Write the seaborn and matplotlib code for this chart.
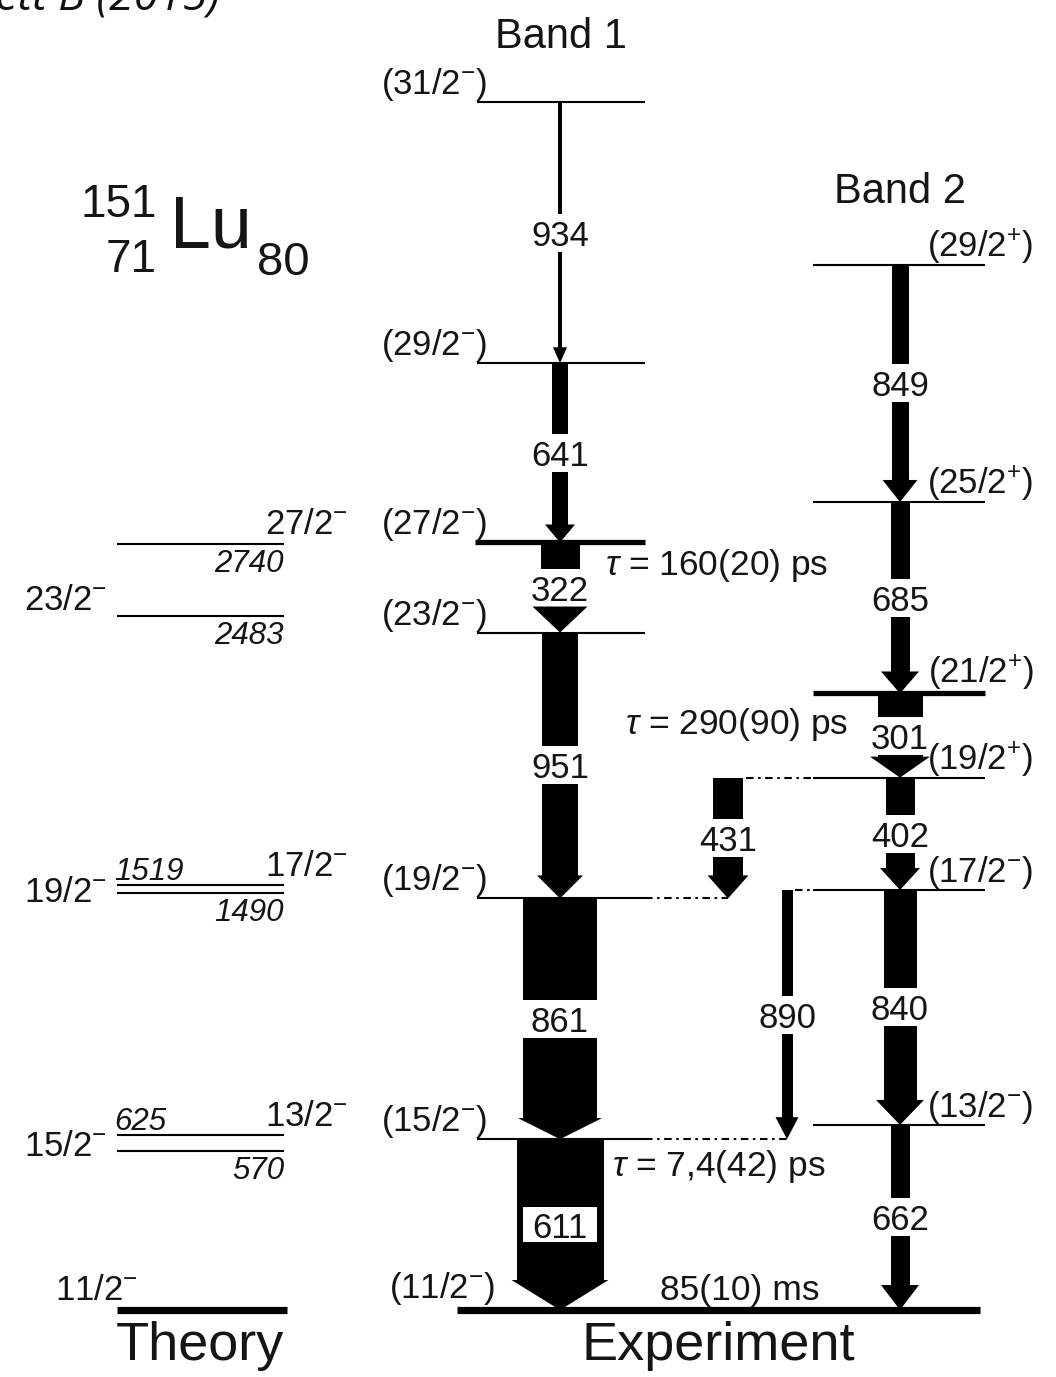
import numpy as np
import pandas as pd
import matplotlib
matplotlib.use("Agg")
import matplotlib.pyplot as plt
from matplotlib.patches import Rectangle
import seaborn as sns

# ---------------- data (energies in keV) ----------------
band1_spins = ["(11/2$^{-}$)", "(15/2$^{-}$)", "(19/2$^{-}$)", "(23/2$^{-}$)",
               "(27/2$^{-}$)", "(29/2$^{-}$)", "(31/2$^{-}$)"]
band1_energies = [0, 611, 1472, 2423, 2745, 3386, 4320]

band2_spins = ["(13/2$^{-}$)", "(17/2$^{-}$)", "(19/2$^{+}$)", "(21/2$^{+}$)",
               "(25/2$^{+}$)", "(29/2$^{+}$)"]
band2_energies = [662, 1502, 1904, 2205, 2890, 3739]

theory_spins = ["11/2$^{-}$", "13/2$^{-}$", "15/2$^{-}$", "17/2$^{-}$",
                "19/2$^{-}$", "23/2$^{-}$", "27/2$^{-}$"]
theory_energies = [0, 570, 625, 1490, 1519, 2483, 2740]

gamma_labels = ["934", "641", "322", "951", "861", "611",
                "849", "685", "301", "402", "840", "662", "431", "890"]
gamma_from = [4320, 3386, 2745, 2423, 1472, 611,
              3739, 2890, 2205, 1904, 1502, 662, 1904, 1502]
gamma_to = [3386, 2745, 2423, 1472, 611, 0,
            2890, 2205, 1904, 1502, 662, 0, 1472, 611]
gamma_intensity = [4, 16, 39, 36, 74, 87, 17, 19, 45, 29, 33, 19, 30, 11]

lifetimes = ["$\\tau$ = 160(20) ps", "$\\tau$ = 290(90) ps",
             "$\\tau$ = 7,4(42) ps", "85(10) ms"]
lifetime_levels = [2745, 2205, 611, 0]

# ---------------- layout / style ----------------
FIG_W, FIG_H = 1056, 1377
PX_PER_KEV = 0.2796
E0_PX = 1310
ymin = -(FIG_H - E0_PX) / PX_PER_KEV
ymax = ymin + FIG_H / PX_PER_KEV


def px(d):
    return d / PX_PER_KEV


B1_X = (477, 645)
B2_X = (813, 985)
TH_X = (117, 284)
EXP_GROUND_X = (457, 980)
TH_GROUND_X = (117, 287)
THICK_LEVELS = {2745, 2205}

gamma_x = [560] * 6 + [900] * 6 + [728, 787]
head_w = [14, 30, 55, 46, 84, 97, 35, 38, 60, 40, 48, 38, 41, 23]
head_l = [16, 18, 26, 23, 21, 30, 22, 22, 21, 22, 25, 25, 23, 22]

FS = 25          # general label size
TXT = "#151515"

sns.set_theme(style="white")
plt.rcParams["font.family"] = ["Liberation Sans", "DejaVu Sans"]
plt.rcParams["mathtext.fontset"] = "custom"
plt.rcParams["mathtext.rm"] = "Liberation Sans"
plt.rcParams["mathtext.it"] = "Liberation Sans:italic"
plt.rcParams["mathtext.bf"] = "Liberation Sans:bold"
plt.rcParams["mathtext.sf"] = "Liberation Sans"

fig = plt.figure(figsize=(FIG_W / 100, FIG_H / 100), dpi=100)
ax = fig.add_axes([0, 0, 1, 1])

# ---------------- level lines (seaborn) ----------------
rows = []


def seg(x0, x1, E, kind):
    sid = len(rows) // 2
    rows.append(dict(x=x0, E=E, seg=sid, kind=kind))
    rows.append(dict(x=x1, E=E, seg=sid, kind=kind))


for E in band1_energies[1:]:
    seg(B1_X[0] - (2 if E in THICK_LEVELS else 0), B1_X[1], E,
        "thick" if E in THICK_LEVELS else "thin")
for E in band2_energies:
    seg(B2_X[0], B2_X[1], E, "thick" if E in THICK_LEVELS else "thin")
for E in theory_energies[1:]:
    seg(TH_X[0], TH_X[1], E, "thin")
seg(EXP_GROUND_X[0], EXP_GROUND_X[1], band1_energies[0], "ground")
seg(TH_GROUND_X[0], TH_GROUND_X[1], theory_energies[0], "ground")
# dash-dotted connections to the inter-band transitions
seg(B1_X[1], gamma_x[12], gamma_to[12], "dotted")
seg(B1_X[1], gamma_x[13], gamma_to[13], "dotted")
seg(gamma_x[12] + 18, B2_X[0], gamma_from[12], "dotted")
seg(gamma_x[13] + 8, B2_X[0], gamma_from[13], "dotted")

df = pd.DataFrame(rows)
styles = {
    "thin": dict(linewidth=1.5, linestyle="-"),
    "thick": dict(linewidth=3.8, linestyle="-"),
    "ground": dict(linewidth=5.2, linestyle="-"),
    "dotted": dict(linewidth=1.5, linestyle=(0, (3.6, 2.2, 1.2, 2.2))),
}
for kind, st in styles.items():
    d = df[df["kind"] == kind]
    sns.lineplot(data=d, x="x", y="E", units="seg", estimator=None, sort=False,
                 color="black", ax=ax, legend=False, **st)
for ln in ax.lines:
    ln.set_solid_capstyle("butt")
    ln.set_dash_capstyle("butt")
    ln.set_antialiased(True)

# ---------------- gamma-ray arrows ----------------
GAP = 38
for i, lab in enumerate(gamma_labels):
    x = gamma_x[i]
    e_hi, e_lo = gamma_from[i], gamma_to[i]
    w, hw, hl = gamma_intensity[i], head_w[i], head_l[i]
    mid = 0.5 * (e_hi + e_lo)
    y_hs = e_lo + px(hl)
    ax.fill([x - hw / 2, x + hw / 2, x], [y_hs, y_hs, e_lo],
            color="black", lw=0)
    boxed = lab == "611"
    if boxed:
        pieces = [(e_hi, y_hs - px(0.6))]
    else:
        pieces = [(e_hi, mid + px(GAP) / 2), (mid - px(GAP) / 2, y_hs - px(0.6))]
    for a, b in pieces:
        if a > b:
            ax.fill([x - w / 2, x + w / 2, x + w / 2, x - w / 2], [a, a, b, b],
                    color="black", lw=0)
    if boxed:
        ax.add_patch(Rectangle((x - 37, mid - px(17)), 74, px(35),
                               facecolor="white", edgecolor="none", zorder=3))
    ax.text(x, mid, lab, ha="center", va="center_baseline", fontsize=FS,
            color=TXT, zorder=4)

# ---------------- level labels ----------------
for s, E in zip(band1_spins, band1_energies):
    off = (18, 12) if E == 0 else (10, 8)
    ax.annotate(s, xy=(B1_X[0], E), xytext=off, textcoords="offset pixels",
                ha="right", va="baseline", fontsize=FS, color=TXT)
for s, E in zip(band2_spins, band2_energies):
    off = (-57, 10) if E in THICK_LEVELS else (-58, 8)
    ax.annotate(s, xy=(B2_X[1], E), xytext=off, textcoords="offset pixels",
                ha="left", va="baseline", fontsize=FS, color=TXT)

# theory labels
FS_N = 22.5


def tlabel(text, x, E, dy, ha, va, italic=False, size=FS):
    ax.annotate(text, xy=(x, E), xytext=(0, dy), textcoords="offset pixels",
                ha=ha, va=va, fontsize=size, color=TXT,
                style="italic" if italic else "normal")


tlabel(theory_spins[6], 265, theory_energies[6], 10, "left", "baseline")
tlabel(str(theory_energies[6]), TH_X[1], theory_energies[6], -5, "right", "top", True, FS_N)
tlabel(theory_spins[5], 107, theory_energies[5], 6, "right", "baseline")
tlabel(str(theory_energies[5]), TH_X[1], theory_energies[5], -5, "right", "top", True, FS_N)
tlabel(str(theory_energies[4]), 114, theory_energies[4], 5, "left", "baseline", True, FS_N)
tlabel(theory_spins[3], 265, theory_energies[4], 9, "left", "baseline")
tlabel(theory_spins[4], 107, 0.5 * (theory_energies[3] + theory_energies[4]), 0,
       "right", "center_baseline")
tlabel(str(theory_energies[3]), TH_X[1], theory_energies[3], -5, "right", "top", True, FS_N)
tlabel(str(theory_energies[2]), 114, theory_energies[2], 5, "left", "baseline", True, FS_N)
tlabel(theory_spins[1], 265, theory_energies[2], 9, "left", "baseline")
tlabel(theory_spins[2], 107, 0.5 * (theory_energies[1] + theory_energies[2]), 0,
       "right", "center_baseline")
tlabel(str(theory_energies[1]), TH_X[1], theory_energies[1], -5, "right", "top", True, FS_N)
tlabel(theory_spins[0], 55, theory_energies[0], 10, "left", "baseline")

# lifetimes
life_x = [605, 625, 612, 660]
life_dy = [-19, -27, -23, 23]
for t, E, x, dy in zip(lifetimes, lifetime_levels, life_x, life_dy):
    ax.annotate(t, xy=(x, E), xytext=(0, dy), textcoords="offset pixels",
                ha="left", va="center_baseline", fontsize=FS + 0.5, color=TXT)

# band titles
ax.annotate("Band 1", xy=(561, band1_energies[-1]), xytext=(0, 70),
            textcoords="offset pixels", ha="center", va="center_baseline",
            fontsize=30, color=TXT)
ax.annotate("Band 2", xy=(900, band2_energies[-1]), xytext=(0, 77),
            textcoords="offset pixels", ha="center", va="center_baseline",
            fontsize=30, color=TXT)
ax.annotate("Theory", xy=(200, 0), xytext=(0, -50), textcoords="offset pixels",
            ha="center", va="baseline", fontsize=39, color=TXT)
ax.annotate("Experiment", xy=(718, 0), xytext=(0, -50), textcoords="offset pixels",
            ha="center", va="baseline", fontsize=39, color=TXT)


# nucleus label
def ftext(xp, yp, s, **kw):
    fig.text(xp / FIG_W, 1 - yp / FIG_H, s, va="baseline", color=TXT, **kw)


ftext(157, 217, "151", ha="right", fontsize=33)
ftext(157, 272, "71", ha="right", fontsize=33)
ftext(170, 248, "Lu", ha="left", fontsize=53)
ftext(257, 275, "80", ha="left", fontsize=34)

# citation at top-left (cropped by the upper edge, as in the reference)
fig.text(220 / FIG_W, 1 - 10 / FIG_H, "Phys. Lett B (2015)", ha="right",
         va="baseline", fontsize=32, style="italic",
         family=["Open Sans", "DejaVu Sans"], color="#111111")

ax.set_xlim(0, FIG_W)
ax.set_ylim(ymin, ymax)
ax.axis("off")

fig.savefig("out.png", dpi=100)
